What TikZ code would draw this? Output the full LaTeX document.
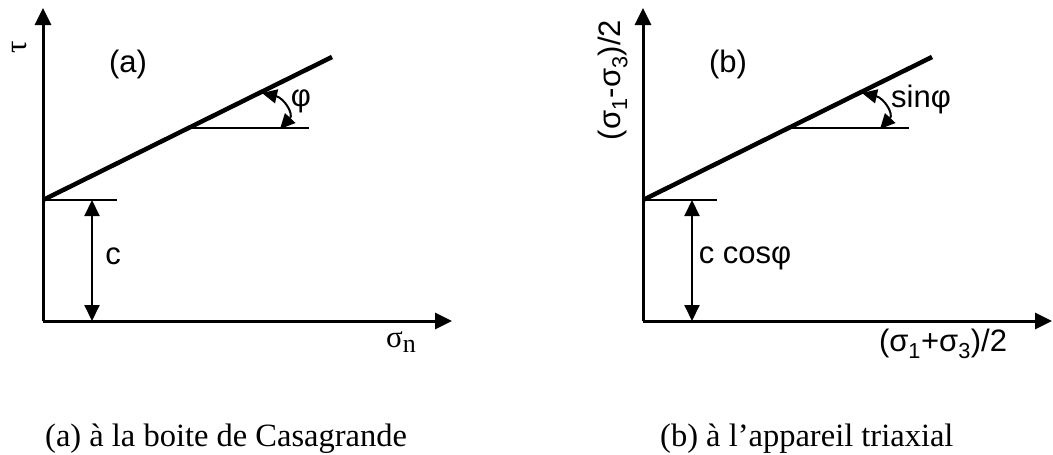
\documentclass[tikz,border=0pt]{standalone}
\usepackage{fontspec}
\setmainfont{Liberation Sans}
\newfontfamily\serifgr{Liberation Serif}
\usetikzlibrary{arrows.meta}
\tikzset{
  x=1pt,y=-1pt,
  axisln/.style={line width=3pt,-{Triangle[length=17pt,width=16pt]}},
  envel/.style={line width=4.5pt},
  thinln/.style={line width=2pt},
  dimarrow/.style={line width=2pt,{Triangle[length=16pt,width=15pt]}-{Triangle[length=16pt,width=15pt]}},
  anglearrow/.style={line width=2pt,{Triangle[length=15pt,width=14pt]}-{Triangle[length=15pt,width=14pt]}},
  lbl/.style={font=\fontsize{31}{36}\selectfont,inner sep=0pt},
  slbl/.style={font=\serifgr\fontsize{31}{36}\selectfont,inner sep=0pt},
  captxt/.style={font=\serifgr\fontsize{32.5}{38}\selectfont,inner sep=0pt,anchor=base west},
}
\begin{document}
\begin{tikzpicture}
\useasboundingbox (0,0) rectangle (1053,455);
% ---------- panel (a) ----------
\coordinate (aO) at (43,321);
\coordinate (aY) at (43,8);
\coordinate (aX) at (452,321);
\coordinate (aC) at (43,200);
\coordinate (aE) at (332,57);
\coordinate (aV) at (188,128);
\coordinate (aH) at (309,128);
\coordinate (aCe) at (117,200);
\coordinate (aDt) at (92,200);
\coordinate (aDb) at (92,321);
\coordinate (aA1) at (262,93);
\coordinate (aA2) at (280,129);
\draw[axisln] (aO) -- (aY);
\draw[axisln] (aO) -- (aX);
\draw[envel] (aC) -- (aE);
\draw[thinln] (aV) -- (aH);
\draw[thinln] (aC) -- (aCe);
\draw[dimarrow] (aDt) -- (aDb);
\draw[anglearrow] (aA1) .. controls (284,98) and (294,114) .. (aA2);
\node[lbl] (alab) at (128,64) {(a)};
\node[lbl] (aphi) at (301,101) {φ};
\node[lbl] (ac) at (113,256) {c};
\node[slbl] (asig) at (401,342) {σ\raisebox{-5pt}{\fontsize{26}{30}\selectfont n}};
\node[slbl,rotate=90] (atau) at (20,47) {τ};
% ---------- panel (b) ----------
\coordinate (bO) at (643,321);
\coordinate (bY) at (643,8);
\coordinate (bX) at (1052,321);
\coordinate (bC) at (643,200);
\coordinate (bE) at (932,57);
\coordinate (bV) at (788,128);
\coordinate (bH) at (909,128);
\coordinate (bCe) at (717,200);
\coordinate (bDt) at (692,200);
\coordinate (bDb) at (692,321);
\coordinate (bA1) at (862,93);
\coordinate (bA2) at (880,129);
\draw[axisln] (bO) -- (bY);
\draw[axisln] (bO) -- (bX);
\draw[envel] (bC) -- (bE);
\draw[thinln] (bV) -- (bH);
\draw[thinln] (bC) -- (bCe);
\draw[dimarrow] (bDt) -- (bDb);
\draw[anglearrow] (bA1) .. controls (884,98) and (894,114) .. (bA2);
\node[lbl] (blab) at (728,64) {(b)};
\node[lbl] (bsin) at (921,99) {sinφ};
\node[lbl] (bcos) at (745,258) {c cosφ};
\node[lbl] (bxl) at (943,344) {(σ\textsubscript{1}+σ\textsubscript{3})/2};
\node[lbl,rotate=90] (byl) at (613,80) {(σ\textsubscript{1}-σ\textsubscript{3})/2};
% ---------- captions ----------
\node[captxt] (capa) at (45,446) {(a) à la boite de Casagrande};
\node[captxt] (capb) at (660,446) {(b) à l’appareil triaxial};
\end{tikzpicture}
\end{document}
